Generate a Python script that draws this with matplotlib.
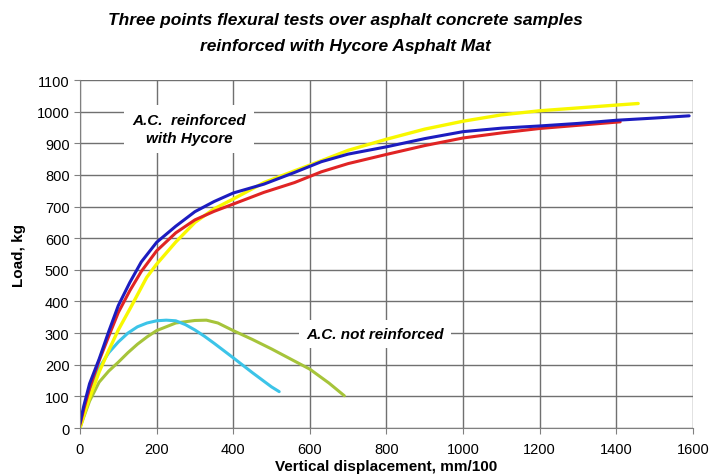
import matplotlib
matplotlib.use("Agg")
import matplotlib.pyplot as plt

plt.rcParams['font.family'] = ['Liberation Sans', 'DejaVu Sans']

# Reinforced samples (A.C. + Hycore)
blue_x = [0, 10, 25, 50, 75, 100, 130, 160, 200, 250, 300, 350, 400, 480, 560, 630,
          700, 800, 900, 1000, 1100, 1200, 1300, 1400, 1500, 1590]
blue_y = [15, 70, 140, 218, 305, 387, 460, 525, 587, 638, 684, 716, 743, 771, 808, 842,
          866, 889, 915, 937, 948, 955, 963, 973, 980, 987]

red_x = [0, 10, 25, 50, 75, 100, 130, 160, 200, 250, 300, 350, 400, 480, 560, 630,
         700, 800, 900, 1000, 1100, 1200, 1300, 1410]
red_y = [10, 60, 125, 213, 290, 365, 434, 495, 560, 617, 658, 685, 708, 745, 776, 810,
         836, 865, 893, 917, 933, 947, 957, 968]

yellow_x = [0, 10, 25, 50, 75, 100, 135, 174, 200, 250, 300, 350, 400, 480, 560, 630,
            700, 800, 900, 1000, 1100, 1200, 1300, 1400, 1457]
yellow_y = [0, 40, 95, 177, 245, 310, 387, 476, 518, 588, 650, 693, 724, 776, 813, 845,
            878, 913, 945, 970, 990, 1003, 1012, 1021, 1026]

# Not reinforced samples
cyan_x = [0, 10, 25, 50, 75, 100, 125, 150, 175, 200, 225, 250, 275, 300, 325, 350,
          375, 400, 450, 500, 520]
cyan_y = [0, 50, 120, 190, 238, 272, 300, 320, 332, 339, 341, 339, 327, 310, 290, 268,
          245, 222, 175, 130, 115]

green_x = [0, 10, 25, 50, 75, 100, 125, 150, 175, 200, 250, 300, 330, 360, 400, 450,
           500, 550, 600, 650, 690]
green_y = [0, 35, 85, 145, 180, 208, 238, 265, 288, 308, 332, 340, 341, 332, 308, 280,
           250, 218, 186, 142, 102]

fig = plt.figure(figsize=(7.09, 4.77), dpi=100)
ax = fig.add_axes([0.1128, 0.1006, 0.8646, 0.7294])

ax.plot(green_x, green_y, color='#a6c43a', lw=2.2, solid_capstyle='round')
ax.plot(cyan_x, cyan_y, color='#3cc4e8', lw=2.2, solid_capstyle='round')
ax.plot(yellow_x, yellow_y, color='#f8f800', lw=2.4, solid_capstyle='round')
ax.plot(red_x, red_y, color='#e02424', lw=2.2, solid_capstyle='round')
ax.plot(blue_x, blue_y, color='#1c1cc0', lw=2.2, solid_capstyle='round')

ax.set_xlim(0, 1600)
ax.set_ylim(0, 1100)
ax.set_xticks(range(0, 1601, 200))
ax.set_yticks(range(0, 1101, 100))
ax.grid(True, color='#707070', lw=1.0)
ax.set_axisbelow(True)
for s in ['top', 'right']:
    ax.spines[s].set_visible(False)
for s in ['left', 'bottom']:
    ax.spines[s].set_color('#808080')
ax.tick_params(labelsize=10.5, color='#808080', length=4)
ax.tick_params(axis='x', pad=6)

ax.set_xlabel('Vertical displacement, mm/100', fontsize=11, fontweight='bold', labelpad=2)
ax.set_ylabel('Load, kg', fontsize=11, fontweight='bold', labelpad=8)

ax.text(285, 945, 'A.C.  reinforced\nwith Hycore', ha='center', va='center',
        fontsize=11, fontweight='bold', style='italic', linespacing=1.3,
        bbox=dict(facecolor='white', edgecolor='none', pad=6))
ax.text(770, 297, 'A.C. not reinforced', ha='center', va='center',
        fontsize=11, fontweight='bold', style='italic',
        bbox=dict(facecolor='white', edgecolor='none', pad=5))

fig.text(0.487, 0.972, 'Three points flexural tests over asphalt concrete samples\n'
         'reinforced with Hycore Asphalt Mat', ha='center', va='top',
         fontsize=12.5, fontweight='bold', style='italic', linespacing=1.85)

fig.savefig('out.png', dpi=100)
